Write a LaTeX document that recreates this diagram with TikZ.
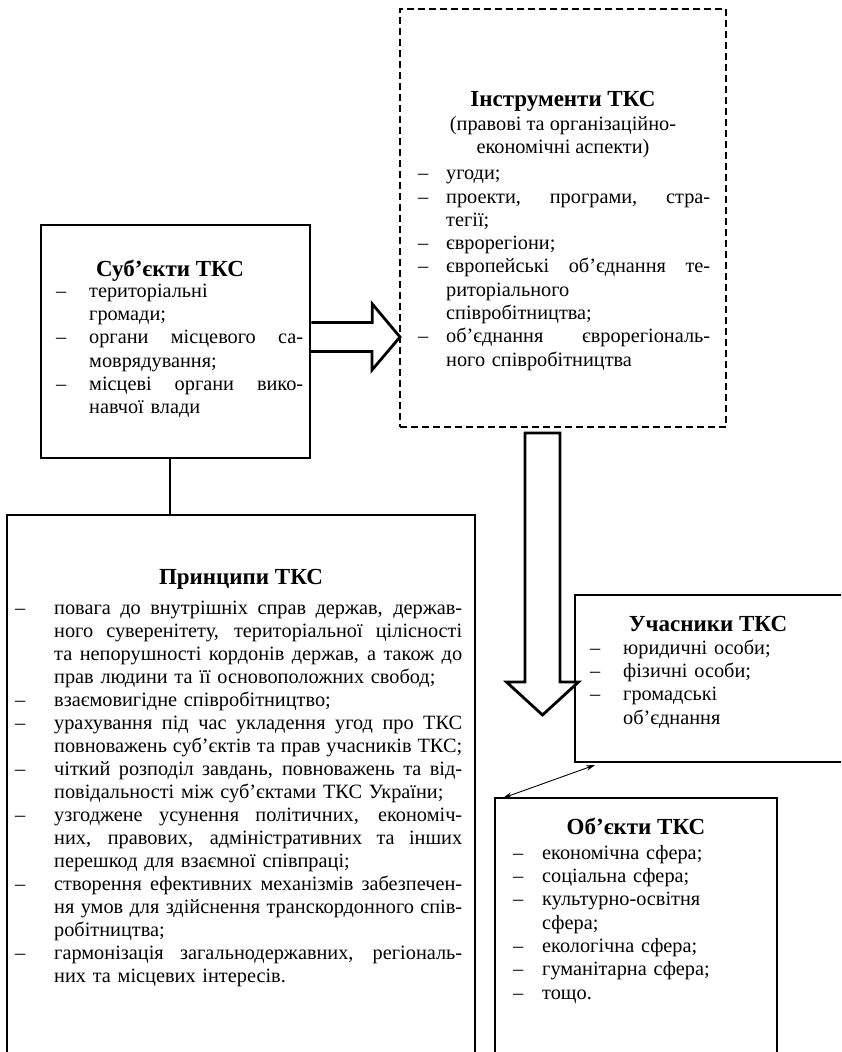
\documentclass[tikz,border=0pt]{standalone}
\usepackage{fontspec}
\setmainfont{Liberation Serif}
\usetikzlibrary{arrows.meta,calc}
\newlength\dind
\newlength\tw
\newcommand\jbox[1]{{\spaceskip=0.25em plus 1fil minus 0.08em\xspaceskip=\spaceskip\makebox[\tw][s]{#1}}}
\newcommand\itJ[1]{\strut\makebox[\dind][l]{–}\jbox{#1}}
\newcommand\itR[1]{\strut\makebox[\dind][l]{–}#1}
\newcommand\coJ[1]{\strut\hspace*{\dind}\jbox{#1}}
\newcommand\coR[1]{\strut\hspace*{\dind}#1}
\newcommand\fsz{\fontsize{20.3}{23.3}\selectfont}
\newcommand\fszp{\fontsize{20.3}{23.0}\selectfont}
\newcommand\fszt{\fontsize{23}{26}\selectfont}
\tikzset{
  thinbox/.style={draw, line width=1.1pt, inner sep=0pt, outer sep=0pt, anchor=north west},
  thickbox/.style={draw, line width=2.6pt, inner sep=0pt, outer sep=0pt, anchor=north west},
  dashbox/.style={draw, line width=2.4pt, dash pattern=on 7pt off 4pt, inner sep=0pt, outer sep=0pt, anchor=north west},
  ttl/.style={font=\fszt\bfseries, inner sep=0pt, anchor=base},
  sub/.style={font=\fsz, inner sep=0pt, anchor=base},
  lst/.style={inner sep=0pt, anchor=north west, text width=#1},
  blk/.style={draw, line width=2.8pt, fill=white, line join=miter},
  conn/.style={draw, line width=1.1pt},
  dbl/.style={draw, line width=0.9pt, {Stealth[length=9pt,width=5.5pt]}-{Stealth[length=9pt,width=5.5pt]}}
}
\begin{document}
\begin{tikzpicture}[x=1pt,y=-1pt]
\useasboundingbox (0,0) rectangle (841,1052);
\clip (0,0) rectangle (841,1052);
% boxes
\node[thickbox, minimum width=269pt, minimum height=233pt] (subj) at (41,225) {};
\node[dashbox, minimum width=326pt, minimum height=418pt] (instr) at (400,9) {};
\node[thinbox, minimum width=468pt, minimum height=560pt] (prin) at (7,515) {};
\node[thinbox, minimum width=290pt, minimum height=167pt] (part) at (575,595) {};
\node[thinbox, minimum width=282pt, minimum height=300pt] (obj) at (495,798) {};
% texts: Subjects
\node[ttl] (subj-t) at (170,276) {Суб’єкти ТКС};
\node[lst=260pt, font={\fsz\setlength\dind{33pt}\setlength\tw{214pt}}] (subj-l) at (56,280.7) {%
\itR{територіальні}\\
\coR{громади;}\\
\itJ{органи місцевого са-}\\
\coR{моврядування;}\\
\itJ{місцеві органи вико-}\\
\coR{навчої влади}};
% Instruments
\node[ttl] (instr-t) at (563,106) {Інструменти ТКС};
\node[sub] (instr-s1) at (563,130.5) {(правові та організаційно-};
\node[sub] (instr-s2) at (563,153.5) {економічні аспекти)};
\node[lst=300pt, font={\fsz\setlength\dind{28pt}\setlength\tw{264pt}}] (instr-l) at (418,163.2) {%
\itR{угоди;}\\
\itJ{проекти, програми, стра-}\\
\coR{тегії;}\\
\itR{єврорегіони;}\\
\itJ{європейські об’єднання те-}\\
\coR{риторіального}\\
\coR{співробітництва;}\\
\itJ{об’єднання єврорегіональ-}\\
\coR{ного співробітництва}};
% Principles
\node[ttl] (prin-t) at (241,584) {Принципи ТКС};
\node[lst=455pt, font={\fszp\setlength\dind{39pt}\setlength\tw{408pt}}] (prin-l) at (15,597.9) {%
\itJ{повага до внутрішніх справ держав, держав-}\\
\coJ{ного суверенітету, територіальної цілісності}\\
\coJ{та непорушності кордонів держав, а також до}\\
\coR{прав людини та її основоположних свобод;}\\
\itR{взаємовигідне співробітництво;}\\
\itJ{урахування під час укладення угод про ТКС}\\
\coJ{повноважень суб’єктів та прав учасників ТКС;}\\
\itJ{чіткий розподіл завдань, повноважень та від-}\\
\coR{повідальності між суб’єктами ТКС України;}\\
\itJ{узгоджене усунення політичних, економіч-}\\
\coJ{них, правових, адміністративних та інших}\\
\coR{перешкод для взаємної співпраці;}\\
\itJ{створення ефективних механізмів забезпечен-}\\
\coJ{ня умов для здійснення транскордонного спів-}\\
\coR{робітництва;}\\
\itJ{гармонізація загальнодержавних, регіональ-}\\
\coR{них та місцевих інтересів.}};
% Participants
\node[ttl] (part-t) at (708,631) {Учасники ТКС};
\node[lst=240pt, font={\fsz\setlength\dind{33pt}}] (part-l) at (590,637.7) {%
\itR{юридичні особи;}\\
\itR{фізичні особи;}\\
\itR{громадські}\\
\coR{об’єднання}};
% Objects
\node[ttl] (obj-t) at (636,834) {Об’єкти ТКС};
\node[lst=250pt, font={\fsz\setlength\dind{29pt}}] (obj-l) at (513,842.7) {%
\itR{економічна сфера;}\\
\itR{соціальна сфера;}\\
\itR{культурно-освітня}\\
\coR{сфера;}\\
\itR{екологічна сфера;}\\
\itR{гуманітарна сфера;}\\
\itR{тощо.}};
% connectors
\draw[conn] ([xshift=-5.5pt]subj.south) -- ([xshift=-5.5pt]subj.south |- prin.north);
\coordinate (ha) at ($(subj.east)+(1.3,-4.5)$);
\draw[blk] ($(ha)+(0,-14.5)$) -- ++(61,0) -- ++(0,-18.5) -- (instr.west |- ha) -- ++(-28,33) -- ++(0,-18.5) -- ++(-61,0);
\coordinate (va) at ($(instr.south)+(-20.5,6)$);
\draw[blk] ($(va)+(-17.5,0)$) -- ++(35,0) -- ++(0,249) -- ++(18.5,0) -- ++(-36,33) -- ++(-36,-33) -- ++(18.5,0) -- cycle;
\draw[dbl] ($(part.south west)+(20,3)$) -- ($(obj.north west)+(8,0)$);
\end{tikzpicture}
\end{document}
